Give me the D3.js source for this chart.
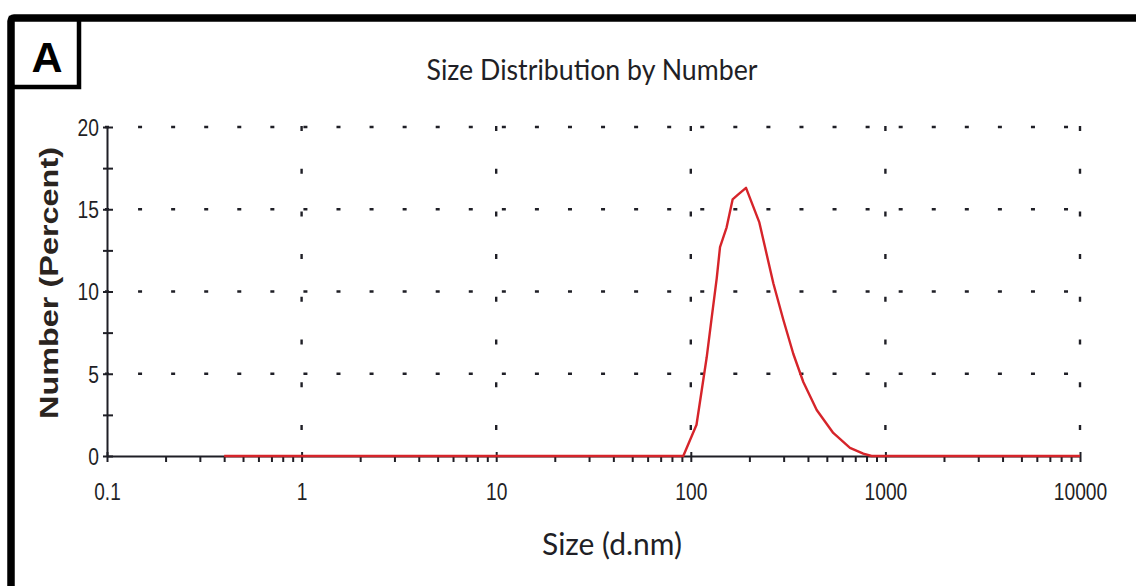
<!DOCTYPE html>
<html>
<head>
<meta charset="utf-8">
<script src="https://cdn.jsdelivr.net/npm/d3@7"></script>
<style>
  body { margin: 0; background: #fff; }
  svg { display: block; }
</style>
</head>
<body>
<div id="chart"></div>
<script>
// Size distribution by number (DLS), panel A

// Data
const sizes = [0.4, 91.5, 107, 113.8, 120.7, 128, 135.9, 141.3, 152.8, 164, 175.4, 192.2,
               225, 240.6, 265.5, 298.6, 336.5, 378.6, 443.6, 539.5, 657.7, 769.5, 849.5, 10000];
const numberPct = [0, 0, 1.9, 4.0, 6.0, 8.4, 10.8, 12.7, 13.9, 15.6, 15.9, 16.3,
                   14.2, 12.7, 10.5, 8.3, 6.2, 4.5, 2.8, 1.4, 0.5, 0.15, 0, 0];
const xDecades = [0.1, 1, 10, 100, 1000, 10000];
const yTicks = [0, 2.5, 5, 7.5, 10, 12.5, 15, 17.5, 20];
const yGrid = [5, 10, 15, 20];

const width = 1136, height = 586;
const ink = "#1f1f26";

// Narrow digits like the instrument software: squeeze the text to a fixed advance per glyph
function narrowLength(s) {
    let w = 0;
    for (const ch of String(s)) w += (ch === ".") ? 5 : 10.7;
    return w;
}

const svg = d3.select("#chart").append("svg")
    .attr("width", width)
    .attr("height", height);

svg.append("rect").attr("width", width).attr("height", height).attr("fill", "#fff");

// Scales
const xScale = d3.scaleLog().domain([0.1, 10000]).range([107, 1080]);
const yScale = d3.scaleLinear().domain([0, 20]).range([456, 127]);

// Dotted grid: horizontal rows then vertical columns at each decade
svg.append("g")
   .selectAll("line")
   .data(yGrid)
   .enter()
   .append("line")
   .attr("x1", xScale(0.1) - 2)
   .attr("x2", xScale(10000) + 2)
   .attr("y1", d => yScale(d))
   .attr("y2", d => yScale(d))
   .attr("stroke", ink)
   .attr("stroke-width", 2.4)
   .attr("stroke-dasharray", "4 29.07");

svg.append("g")
   .selectAll("line")
   .data(xDecades.slice(1))
   .enter()
   .append("line")
   .attr("x1", d => xScale(d))
   .attr("x2", d => xScale(d))
   .attr("y1", yScale(20) - 1)
   .attr("y2", yScale(0))
   .attr("stroke", ink)
   .attr("stroke-width", 2.4)
   .attr("stroke-dasharray", "5 37.7");

const tickFont = "'Liberation Sans', Arial, sans-serif";

// Y axis, ticks crossing the line, labels every 5
const yAxis = svg.append("g")
    .attr("transform", "translate(" + xScale(0.1) + ",0)")
    .call(d3.axisLeft(yScale)
            .tickValues(yTicks)
            .tickSizeOuter(0)
            .tickFormat(d => d % 5 === 0 ? d : ""));
yAxis.select(".domain").attr("stroke", ink).attr("stroke-width", 2);
yAxis.selectAll(".tick line").attr("x1", -4).attr("x2", 6).attr("stroke", ink).attr("stroke-width", 2);
yAxis.selectAll(".tick text")
     .attr("x", -8)
     .attr("dy", "0.36em")
     .attr("textLength", d => d % 5 === 0 ? narrowLength(d) : null)
     .attr("lengthAdjust", "spacingAndGlyphs")
     .style("font-family", tickFont)
     .style("font-size", "23px")
     .attr("fill", ink);

// X axis (log), minor ticks at 2..9, labels at decades
const xAxis = svg.append("g")
    .attr("transform", "translate(0," + yScale(0) + ")")
    .call(d3.axisBottom(xScale)
            .tickValues(xScale.ticks())
            .tickSizeOuter(0)
            .tickFormat(d => xDecades.includes(d) ? String(d) : ""));
xAxis.select(".domain").attr("stroke", ink).attr("stroke-width", 2);
xAxis.selectAll(".tick line")
     .attr("y1", d => xDecades.includes(d) ? -4 : 0)
     .attr("y2", 6)
     .attr("stroke", ink)
     .attr("stroke-width", 2);
xAxis.selectAll(".tick text")
     .attr("y", 44)
     .attr("dy", "0")
     .attr("textLength", d => xDecades.includes(d) ? narrowLength(d) : null)
     .attr("lengthAdjust", "spacingAndGlyphs")
     .style("font-family", tickFont)
     .style("font-size", "23px")
     .attr("fill", ink);

// The distribution curve
const line = d3.line()
    .x((d, i) => xScale(sizes[i]))
    .y(d => yScale(d));

svg.append("path")
   .datum(numberPct)
   .attr("d", line)
   .attr("fill", "none")
   .attr("stroke", "#d6242a")
   .attr("stroke-width", 2.4)
   .attr("stroke-linejoin", "round");

// Titles
svg.append("text")
   .attr("x", 592)
   .attr("y", 80)
   .attr("text-anchor", "middle")
   .attr("textLength", 331)
   .attr("lengthAdjust", "spacingAndGlyphs")
   .style("font-family", "Lato, 'Open Sans', sans-serif")
   .style("font-size", "28px")
   .attr("fill", ink)
   .text("Size Distribution by Number");

svg.append("text")
   .attr("x", 612)
   .attr("y", 555)
   .attr("text-anchor", "middle")
   .attr("textLength", 140)
   .attr("lengthAdjust", "spacingAndGlyphs")
   .style("font-family", "Lato, 'Open Sans', sans-serif")
   .style("font-size", "30px")
   .attr("fill", ink)
   .text("Size (d.nm)");

svg.append("text")
   .attr("transform", "translate(58,283) rotate(-90)")
   .attr("text-anchor", "middle")
   .attr("textLength", 272)
   .attr("lengthAdjust", "spacingAndGlyphs")
   .style("font-family", "'Liberation Sans', Arial, sans-serif")
   .style("font-weight", "bold")
   .style("font-size", "25px")
   .attr("fill", "#2a2420")
   .text("Number (Percent)");

// Panel frame and the "A" label box
svg.append("rect")
   .attr("x", 11).attr("y", 18)
   .attr("width", 1300).attr("height", 800)
   .attr("rx", 3)
   .attr("fill", "none")
   .attr("stroke", "#000")
   .attr("stroke-width", 7.5);

svg.append("rect")
   .attr("x", 11).attr("y", 18)
   .attr("width", 68).attr("height", 69)
   .attr("fill", "none")
   .attr("stroke", "#000")
   .attr("stroke-width", 4.5);

svg.append("text")
   .attr("x", 47)
   .attr("y", 72)
   .attr("text-anchor", "middle")
   .style("font-family", "'Liberation Sans', Arial, sans-serif")
   .style("font-weight", "bold")
   .style("font-size", "43px")
   .attr("fill", "#000")
   .text("A");
</script>
</body>
</html>
